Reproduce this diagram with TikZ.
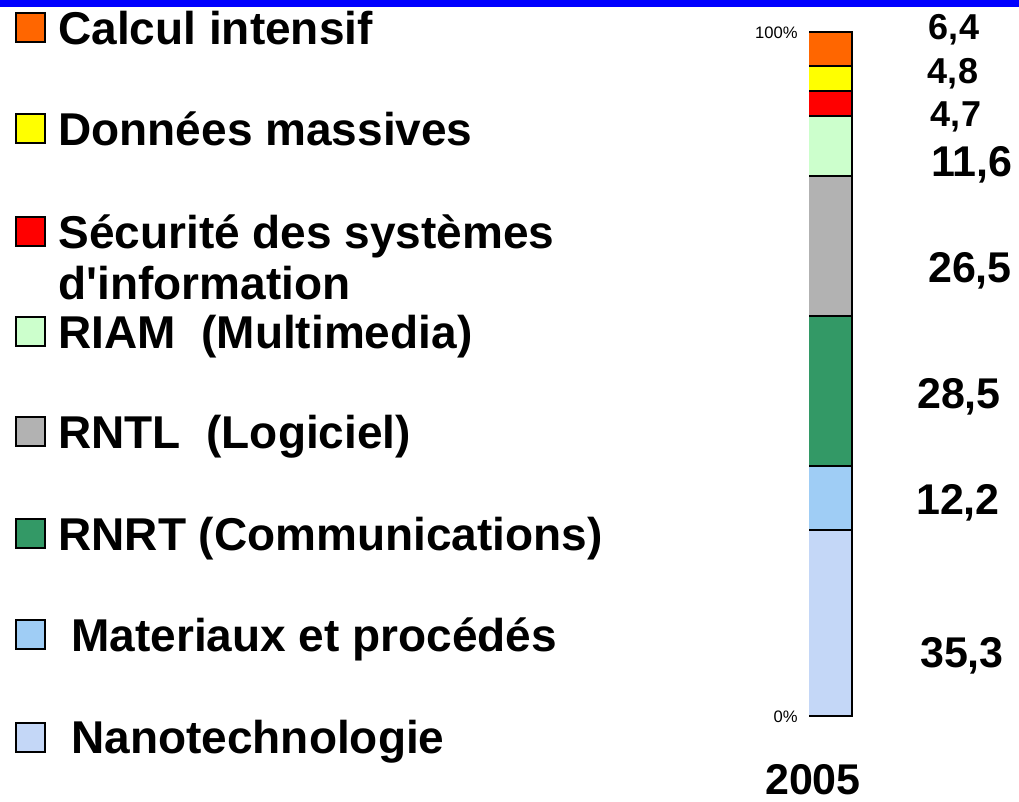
\documentclass[tikz,border=0pt]{standalone}
\usepackage{fontspec}
\setmainfont{Liberation Sans}

\definecolor{calcul}{HTML}{FF6600}
\definecolor{donnees}{HTML}{FFFF00}
\definecolor{secu}{HTML}{FF0000}
\definecolor{riam}{HTML}{CCFFCC}
\definecolor{rntl}{HTML}{B2B2B2}
\definecolor{rnrt}{HTML}{339966}
\definecolor{mater}{HTML}{9FCDF5}
\definecolor{nano}{HTML}{C4D7F7}
\definecolor{topbar}{HTML}{0000FF}

\begin{document}
\begin{tikzpicture}[x=0.5pt,y=-0.5pt,
    legbox/.style={draw=black,line width=1pt,minimum size=14.5pt,inner sep=0pt},
    legtext/.style={anchor=base west,inner sep=0pt,font=\fontsize{23}{26}\selectfont\bfseries},
    smallval/.style={anchor=base,inner sep=0pt,font=\fontsize{18}{21}\selectfont\bfseries},
    bigval/.style={anchor=base,inner sep=0pt,font=\fontsize{21.5}{25}\selectfont\bfseries},
    pct/.style={anchor=east,inner sep=0pt,font=\fontsize{8.3}{10}\selectfont},
    barline/.style={line width=1pt,black}]
        \useasboundingbox (0,0) rectangle (1019,802);
        \fill[topbar] (0,0) rectangle (1019,7);

        % legend
        \node[legbox,fill=calcul] (bcalc) at (30,28) {};
        \node[legbox,fill=donnees] (bdonn) at (30,129) {};
        \node[legbox,fill=secu] (bsecu) at (30,232) {};
        \node[legbox,fill=riam] (briam) at (30,332) {};
        \node[legbox,fill=rntl] (brntl) at (30,432) {};
        \node[legbox,fill=rnrt] (brnrt) at (30,534) {};
        \node[legbox,fill=mater] (bmater) at (30,635) {};
        \node[legbox,fill=nano] (bnano) at (30,737) {};

        \node[legtext] (tcalc) at (58,44.5) {Calcul intensif};
        \node[legtext] (tdonn) at (58,145.5) {Données massives};
        \node[legtext] (tsecu) at (58,248.5) {Sécurité des systèmes};
        \node[legtext] (tsecub) at (58,300) {d\textquotesingle information};
        \node[legtext] (triam) at (58,348.5) {RIAM\space\space (Multimedia)};
        \node[legtext] (trntl) at (58,448.5) {RNTL\space\space (Logiciel)};
        \node[legtext] (trnrt) at (58,550.5) {RNRT (Communications)};
        \node[legtext] (tmater) at (71,651.5) {Materiaux et procédés};
        \node[legtext] (tnano) at (71,753.5) {Nanotechnologie};

        % stacked bar
        \fill[calcul] (809,32) rectangle (852,66);
        \fill[donnees] (809,66) rectangle (852,91);
        \fill[secu] (809,91) rectangle (852,116);
        \fill[riam] (809,116) rectangle (852,176);
        \fill[rntl] (809,176) rectangle (852,316);
        \fill[rnrt] (809,316) rectangle (852,466);
        \fill[mater] (809,466) rectangle (852,530);
        \fill[nano] (809,530) rectangle (852,716);
        \draw[barline] (809,32) -- (852,32) -- (852,716) -- (809,716);
        \draw[barline] (809,66) -- (852,66);
        \draw[barline] (809,91) -- (852,91);
        \draw[barline] (809,116) -- (852,116);
        \draw[barline] (809,176) -- (852,176);
        \draw[barline] (809,316) -- (852,316);
        \draw[barline] (809,466) -- (852,466);
        \draw[barline] (809,530) -- (852,530);

        \node[pct] (p100) at (798,33) {100\%};
        \node[pct] (p0) at (798,717) {0\%};

        % values
        \node[smallval] (vcalc) at (954,40) {6,4};
        \node[smallval] (vdonn) at (953,84) {4,8};
        \node[smallval] (vsecu) at (956,127) {4,7};
        \node[bigval] (vriam) at (972,177) {11,6};
        \node[bigval] (vrntl) at (970,283) {26,5};
        \node[bigval] (vrnrt) at (959,409) {28,5};
        \node[bigval] (vmater) at (958,515) {12,2};
        \node[bigval] (vnano) at (962,668) {35,3};
        \node[bigval] (year) at (813,794) {2005};
\end{tikzpicture}
\end{document}
